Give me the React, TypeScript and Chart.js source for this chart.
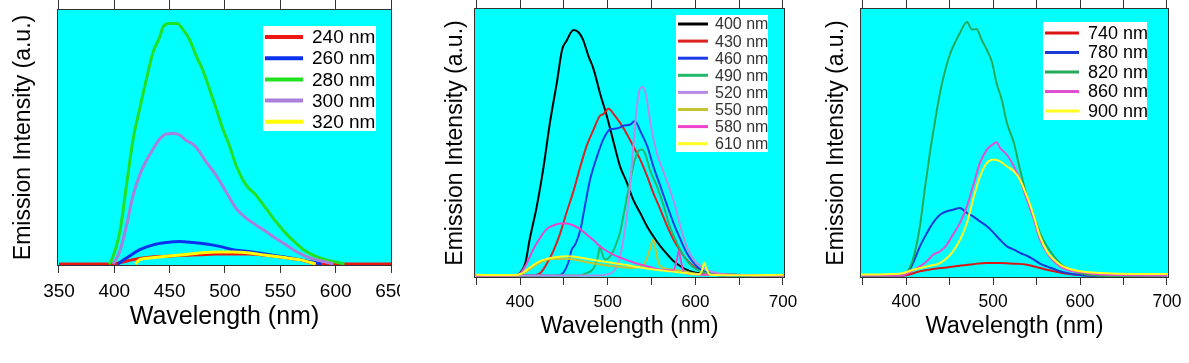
import React, { useEffect, useRef } from "react";
import { Chart, registerables } from "chart.js";

Chart.register(...registerables);
Chart.defaults.font.family = "'Liberation Sans', Arial, sans-serif";

type Pt = [number, number];

// ---------------- Panel 1 data ----------------
const p1Labels = ["240 nm", "260 nm", "280 nm", "300 nm", "320 nm"];
const p1Colors = ["#ee1515", "#0a32ee", "#22e022", "#a880dc", "#ffff00"];
const p1Em240: Pt[] = [[350,0],[400,0],[406,0.6],[417,1.7],[432,2.6],[447,3],[462,3.4],[477,3.6],[492,3.9],[507,3.9],[522,3.9],[537,3.4],[552,2.6],[567,1.7],[579,0.4],[586,0],[650,0]];
const p1Em260: Pt[] = [[403,0],[411,2.3],[423,5.6],[435,7.5],[447,8.4],[459,8.8],[471,8.4],[483,7.8],[495,6.9],[507,5.6],[519,5],[531,4.3],[543,3.4],[555,2.6],[567,1.7],[579,0.8],[587,0]];
const p1Em280: Pt[] = [[395,0],[397,1],[405,12.7],[411,31],[417,49],[423,61],[429,72.5],[435,83],[441,89],[444,93],[450,94.3],[457,94.3],[462,92],[468,88],[474,81.6],[480,76],[486,68.6],[492,61],[498,53],[504,46.5],[510,38.7],[519,31],[528,27],[537,21.8],[546,16.6],[555,12],[564,8.2],[573,5],[582,3],[591,1.7],[600,0.8],[608,0]];
const p1Em300: Pt[] = [[399,0],[405,5],[411,15],[417,27],[423,35],[429,40.6],[435,45],[441,49],[447,51],[453,51.2],[459,50.6],[465,48.4],[471,47],[477,44],[483,40],[492,34.8],[501,28.3],[510,21.8],[519,18],[528,15.3],[537,12.7],[546,10],[555,7.5],[564,5],[573,3],[582,1.7],[591,0.8],[598,0]];
const p1Em320: Pt[] = [[419,0],[423,1.7],[432,2.3],[447,3],[462,3.6],[477,4.3],[492,4.7],[507,4.7],[522,4.3],[537,3.4],[552,2.6],[567,1.7],[579,0.4],[582,0]];
const p1Ticks = [350, 400, 450, 500, 550, 600, 650];
const p1TickLabels = [350, 400, 450, 500, 550, 600, 650];

// ---------------- Panel 2 data ----------------
const p2Labels = ["400 nm", "430 nm", "460 nm", "490 nm", "520 nm", "550 nm", "580 nm", "610 nm"];
const p2Colors = ["#000000", "#dd2222", "#1a3be6", "#22b86b", "#b88be8", "#c4c430", "#ee44cc", "#ffff22"];
const p2Em400: Pt[] = [[350,0],[392,0],[400,1],[406,5],[411,14.7],[419,28],[427,44.6],[434,62],[442,78.6],[448,92],[453,95.6],[461,100],[467,99],[472,96],[478,89.5],[484,84],[491,74.6],[499,65],[507,54],[514,44.6],[522,37.8],[529,31],[537,25.6],[545,20],[552,16],[560,12],[568,8.6],[575,5.9],[583,3.8],[590,2.4],[598,1.4],[613,0.7],[644,0.3],[700,-0.3]];
const p2Em430: Pt[] = [[350,0],[411,0],[423,1],[430,4.5],[438,10],[446,17.4],[453,25.6],[461,34.4],[469,44.6],[476,52.8],[484,59.6],[491,65],[495,65.7],[501,68],[507,65.7],[514,62.3],[522,57.6],[529,52.8],[537,47.3],[545,40.5],[552,33.7],[560,27],[568,20],[575,14.7],[583,10],[590,6.5],[598,3.8],[606,2.2],[613,1],[629,0.3],[700,0]];
const p2Em460: Pt[] = [[350,0],[442,0],[449,1],[455,5.2],[459,10.6],[463,12.7],[469,18.8],[474,28.3],[480,39.2],[488,48.7],[495,55.5],[503,59.6],[510,59.9],[518,61],[526,61.6],[531,63],[537,59],[545,52.8],[552,44.6],[560,36.5],[568,28.3],[575,21.5],[583,14.7],[590,9.3],[598,5.2],[606,2.4],[617,0.8],[632,0],[700,0]];
const p2Em490: Pt[] = [[350,0],[465,0],[476,1],[484,3],[489,8],[491,12],[494,8.6],[497,6.5],[503,7.9],[508,11.3],[514,17.4],[520,28.3],[526,39],[531,47.3],[535,50.7],[539,51.4],[543,49.4],[548,43.3],[556,36.5],[564,28.3],[571,20],[579,13.3],[587,7.9],[594,4.5],[602,2.4],[613,0.8],[628,0],[700,0]];
const p2Em520: Pt[] = [[350,0],[491,0],[499,0.4],[507,1.8],[512,5.2],[518,14.7],[524,31],[529,51.4],[533,67.8],[537,76.2],[540,76.8],[544,73.2],[548,63.7],[556,50],[564,42],[571,35],[577,28.3],[583,20],[590,12],[598,6.5],[606,3.8],[617,1.8],[628,0.8],[644,0.3],[700,0]];
const p2Em550: Pt[] = [[350,0],[396,0],[408,1.8],[419,4.5],[430,6.3],[442,6.8],[453,6.8],[465,6.3],[476,5.4],[491,4.5],[507,3.8],[526,3.1],[541,4.5],[547,9.3],[552,14.7],[556,7.9],[560,3.8],[575,2.4],[590,1.4],[606,0.5],[625,0.3],[700,0]];
const p2Em580: Pt[] = [[350,0],[392,0],[400,0.8],[408,5.2],[415,10.6],[423,15.4],[430,18.8],[438,20.4],[446,21.2],[453,21.2],[461,20.4],[469,18.8],[476,16.7],[484,14.4],[491,12],[499,10],[510,7.9],[522,6.3],[533,4.9],[545,3.8],[556,2.7],[568,2.2],[575,2.2],[579,6.5],[581,10],[584,5.2],[587,1.4],[598,0.5],[625,0.3],[700,0]];
const p2Em610: Pt[] = [[350,0.3],[392,0.2],[400,0.5],[408,2.4],[419,5.2],[430,6.8],[442,7.6],[453,7.9],[465,7.6],[476,6.8],[491,5.9],[510,4.9],[529,3.8],[548,2.7],[568,1.8],[587,1.1],[604,0.5],[608,2.4],[610,5.2],[613,2.4],[617,0.3],[644,0.1],[700,0.3]];
const p2Ticks = [350, 400, 450, 500, 550, 600, 650, 700];
const p2TickLabels = [400, 500, 600, 700];

// ---------------- Panel 3 data ----------------
const p3Labels = ["740 nm", "780 nm", "820 nm", "860 nm", "900 nm"];
const p3Colors = ["#dd1414", "#1a3ad8", "#22aa5a", "#e050d0", "#ffff22"];
const p3Em740: Pt[] = [[350,0],[393,0],[401,0.5],[416,2],[431,2.9],[447,3.5],[462,4.2],[477,4.8],[493,5.2],[508,5.2],[524,5],[539,4.6],[554,3.3],[570,2],[585,1],[600,0.5],[624,0.3],[700,0]];
const p3Em780: Pt[] = [[350,0.2],[393,0.3],[401,1],[408,5.2],[416,11.8],[424,17],[431,21],[439,24.2],[447,25.6],[454,26.2],[462,26.9],[470,24.9],[477,23.6],[485,21.6],[493,19.7],[501,17],[508,14.4],[516,11.8],[524,10.5],[531,9.2],[539,8.1],[547,6.6],[554,5],[562,3.9],[570,2.9],[577,2],[585,1.3],[600,0.5],[624,0.1],[700,0]];
const p3Em820: Pt[] = [[350,0.2],[393,0.3],[400,1.3],[405,3.9],[410,9.2],[416,19.7],[422,35.4],[428,49.8],[433,60.3],[439,72],[445,81],[451,87.8],[456,91.7],[462,95.7],[470,100],[476,97],[481,97.2],[487,93],[493,89],[499,84],[504,76],[510,69.5],[516,60.3],[524,52.4],[531,42],[539,31.5],[547,23.6],[554,17],[562,11.8],[570,7.9],[577,5.2],[585,3.3],[596,1.6],[612,0.5],[631,0.1],[700,0]];
const p3Em860: Pt[] = [[350,0.3],[393,0.3],[401,1],[408,2.4],[416,3.9],[424,5.9],[431,8.5],[439,9.8],[447,12.5],[454,16.4],[462,21],[470,27.5],[477,35.4],[485,44.6],[493,49.8],[501,52.2],[504,52.7],[508,50.5],[516,47.8],[524,43.2],[531,38],[539,30.1],[547,22.3],[554,14.4],[562,9.2],[570,5.9],[577,3.9],[585,2.6],[600,1.6],[624,0.7],[700,0.3]];
const p3Em900: Pt[] = [[347,0.7],[393,1],[408,2.6],[424,3.9],[439,5.2],[447,7.2],[454,9.8],[462,14.4],[470,21],[477,30.1],[485,39.3],[493,44.6],[501,45.9],[508,45.2],[516,43.2],[524,41.3],[531,38],[539,31.5],[547,23.6],[554,15.7],[562,9.8],[570,6.6],[577,4.6],[585,3.3],[600,2],[624,1.3],[662,0.9],[702,0.9]];
const p3Ticks = [350, 400, 450, 500, 550, 600, 650, 700];
const p3TickLabels = [400, 500, 600, 700];

const xTitle = "Wavelength (nm)";
const yTitle = "Emission Intensity (a.u.)";

// ---------------- rendering ----------------
const H = 363;

interface Series { label: string; color: string; data: Pt[]; width: number; }
interface LegendSpec { x: number; y: number; w: number; h: number; firstRow: number; rowStep: number; sw1: number; sw2: number; textX: number; font: number; lineW: number; textColor: string; }
interface PanelSpec {
  canvasLeft: number; canvasWidth: number;
  area: { left: number; right: number; top: number; bottom: number };
  xMin: number; xMax: number; yMin: number; yMax: number;
  ticks: number[]; labelled: number[];
  series: Series[];
  tickFont: number; tickPad: number; topTickLen: number; botTickLen: number;
  xTitleFont: number; xTitlePad: number;
  yTitleFont: number; yTitleCenter: number;
  legend: LegendSpec;
}

const bgPlugin = {
  id: "cyanBg",
  beforeDraw(chart: any) {
    const { ctx, chartArea: a } = chart;
    ctx.save();
    ctx.fillStyle = "#00ffff";
    ctx.fillRect(a.left, a.top, a.right - a.left, a.bottom - a.top);
    ctx.restore();
  },
};

const framePlugin = {
  id: "frameLegend",
  afterDatasetsDraw(chart: any, _args: any, opts: any) {
    const { ctx, chartArea: a } = chart;
    ctx.save();
    ctx.strokeStyle = "#333";
    ctx.lineWidth = 1;
    ctx.strokeRect(Math.round(a.left) + 0.5, Math.round(a.top) + 0.5, Math.round(a.right - a.left) - 1, Math.round(a.bottom - a.top) - 1);
    const L: LegendSpec = opts.legend;
    if (L) {
      ctx.fillStyle = "#ffffff";
      ctx.fillRect(L.x, L.y, L.w, L.h);
      ctx.font = `${L.font}px 'Liberation Sans', Arial, sans-serif`;
      ctx.textBaseline = "middle";
      ctx.textAlign = "left";
      chart.data.datasets.forEach((ds: any, i: number) => {
        const yy = L.firstRow + i * L.rowStep;
        ctx.strokeStyle = ds.borderColor;
        ctx.lineWidth = L.lineW;
        ctx.beginPath();
        ctx.moveTo(L.sw1, yy);
        ctx.lineTo(L.sw2, yy);
        ctx.stroke();
        ctx.fillStyle = L.textColor;
        ctx.fillText(ds.label, L.textX, yy + 1);
      });
    }
    ctx.restore();
  },
};

function buildConfig(spec: PanelSpec): any {
  const { area } = spec;
  const yLine = spec.yTitleFont * 1.2;
  const padL = Math.max(0, spec.yTitleCenter - yLine / 2);
  const setTicks = (s: any) => { s.ticks = spec.ticks.map((v) => ({ value: v })); };
  const n = spec.series.length;
  return {
    type: "line",
    data: {
      datasets: spec.series.map((s, i) => ({
        label: s.label,
        data: s.data.map(([x, y]) => ({ x, y })),
        borderColor: s.color,
        backgroundColor: s.color,
        borderWidth: s.width,
        pointRadius: 0,
        fill: false,
        cubicInterpolationMode: "monotone",
        order: n - i,
      })),
    },
    options: {
      responsive: false,
      animation: false,
      events: [],
      layout: { padding: { left: padL, right: spec.canvasWidth - area.right, top: 0, bottom: 0 } },
      plugins: {
        legend: { display: false },
        tooltip: { enabled: false },
        frameLegend: { legend: spec.legend },
      },
      scales: {
        x: {
          type: "linear", position: "bottom", min: spec.xMin, max: spec.xMax,
          afterBuildTicks: setTicks,
          ticks: {
            autoSkip: false, maxRotation: 0, minRotation: 0, padding: spec.tickPad,
            font: { size: spec.tickFont }, color: "#000",
            callback: (v: number) => (spec.labelled.includes(v) ? String(v) : ""),
          },
          grid: { drawOnChartArea: false, drawTicks: true, tickLength: spec.botTickLen, color: "#333", lineWidth: 1 },
          border: { display: false },
          title: { display: true, text: xTitle, font: { size: spec.xTitleFont }, color: "#000", padding: { top: 0, bottom: spec.xTitlePad } },
          afterFit: (s: any) => { s.height = H - area.bottom; s.paddingLeft = 0; s.paddingRight = 0; },
        },
        xTop: {
          type: "linear", position: "top", min: spec.xMin, max: spec.xMax,
          afterBuildTicks: setTicks,
          ticks: { display: false },
          grid: { drawOnChartArea: false, drawTicks: true, tickLength: spec.topTickLen, color: "#333", lineWidth: 1 },
          border: { display: false },
          afterFit: (s: any) => { s.height = area.top; s.paddingLeft = 0; s.paddingRight = 0; },
        },
        y: {
          type: "linear", position: "left", min: spec.yMin, max: spec.yMax,
          ticks: { display: false },
          grid: { display: false },
          border: { display: false },
          title: { display: true, text: yTitle, font: { size: spec.yTitleFont }, color: "#000", padding: 0 },
          afterFit: (s: any) => { s.width = area.left - padL; },
        },
      },
    },
    plugins: [bgPlugin, framePlugin],
  };
}

const mk = (labels: string[], colors: string[], data: Pt[][], width: number): Series[] =>
  labels.map((l, i) => ({ label: l, color: colors[i], data: data[i], width }));

const panels: PanelSpec[] = [
  {
    canvasLeft: 0, canvasWidth: 400,
    area: { left: 57, right: 392, top: 9, bottom: 266 },
    xMin: 348.2, xMax: 650.9, yMin: -0.8, yMax: 100,
    ticks: p1Ticks, labelled: p1TickLabels,
    series: mk(p1Labels, p1Colors, [p1Em240, p1Em260, p1Em280, p1Em300, p1Em320], 3),
    tickFont: 19, tickPad: 7, topTickLen: 9, botTickLen: 7,
    xTitleFont: 25, xTitlePad: 31,
    yTitleFont: 23, yTitleCenter: 23.5,
    legend: { x: 263, y: 26, w: 113, h: 105, firstRow: 37, rowStep: 21.2, sw1: 265, sw2: 303, textX: 312, font: 19, lineW: 4, textColor: "#000" },
  },
  {
    canvasLeft: 400, canvasWidth: 400,
    area: { left: 74, right: 385, top: 8, bottom: 278 },
    xMin: 347.5, xMax: 702.3, yMin: -1, yMax: 109,
    ticks: p2Ticks, labelled: p2TickLabels,
    series: mk(p2Labels, p2Colors, [p2Em400, p2Em430, p2Em460, p2Em490, p2Em520, p2Em550, p2Em580, p2Em610], 2),
    tickFont: 17, tickPad: 7, topTickLen: 8, botTickLen: 7,
    xTitleFont: 23.5, xTitlePad: 22,
    yTitleFont: 23, yTitleCenter: 56,
    legend: { x: 276, y: 15, w: 92, h: 137, firstRow: 24, rowStep: 17.1, sw1: 278, sw2: 308, textX: 315, font: 16, lineW: 3, textColor: "#333" },
  },
  {
    canvasLeft: 800, canvasWidth: 389,
    area: { left: 60, right: 369, top: 8, bottom: 278 },
    xMin: 347.1, xMax: 702.3, yMin: -0.65, yMax: 105.5,
    ticks: p3Ticks, labelled: p3TickLabels,
    series: mk(p3Labels, p3Colors, [p3Em740, p3Em780, p3Em820, p3Em860, p3Em900], 2),
    tickFont: 17.5, tickPad: 7, topTickLen: 8, botTickLen: 7,
    xTitleFont: 23.5, xTitlePad: 22,
    yTitleFont: 23, yTitleCenter: 37,
    legend: { x: 243, y: 22, w: 104, h: 98, firstRow: 33, rowStep: 19.5, sw1: 245, sw2: 279, textX: 288, font: 18, lineW: 3, textColor: "#000" },
  },
];

function Panel({ spec }: { spec: PanelSpec }) {
  const ref = useRef<HTMLCanvasElement | null>(null);
  useEffect(() => {
    if (!ref.current) return;
    const chart = new Chart(ref.current, buildConfig(spec));
    return () => chart.destroy();
  }, [spec]);
  return (
    <canvas
      ref={ref}
      width={spec.canvasWidth}
      height={H}
      style={{ position: "absolute", left: spec.canvasLeft, top: 0, width: spec.canvasWidth, height: H, display: "block" }}
    />
  );
}

export default function App() {
  return (
    <div style={{ position: "absolute", left: 0, top: 0, width: 1189, height: H, background: "#fff", overflow: "hidden" }}>
      {panels.map((p, i) => (
        <Panel key={i} spec={p} />
      ))}
    </div>
  );
}
